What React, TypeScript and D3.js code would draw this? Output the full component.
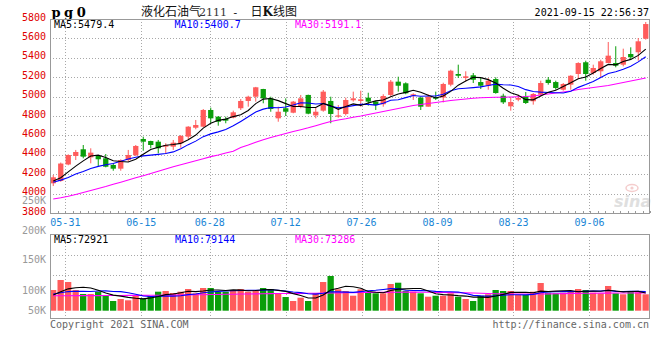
import React from 'react';
import * as d3 from 'd3';

// ---------- data ----------
const labelDates = ['05-31', '06-15', '06-28', '07-12', '07-26', '08-09', '08-23', '09-06'];
const labelIndex = [2, 12, 21, 31, 41, 51, 61, 71];

const openP = [4106, 4130, 4300, 4388, 4457, 4374, 4388, 4364, 4295, 4257,
  4346, 4395, 4563, 4542, 4535, 4484, 4484, 4519, 4587, 4679,
  4690, 4862, 4793, 4769, 4783, 4880, 4955, 4999, 5078, 4982,
  4776, 4880, 4834, 4896, 5017, 4806, 4855, 4955, 4793, 4821,
  4962, 4955, 4989, 4948, 4921, 5017, 5154, 5137, 5009, 4989,
  4896, 4993, 4990, 5123, 5233, 5192, 5220, 5150, 5112, 5181,
  5009, 4900, 4968, 5003, 4952, 5020, 5174, 5150, 5071, 5123,
  5233, 5354, 5243, 5261, 5346, 5346, 5329, 5439, 5457, 5597];
const highP = [4192, 4320, 4405, 4450, 4501, 4467, 4398, 4408, 4312, 4353,
  4450, 4501, 4587, 4545, 4553, 4519, 4553, 4604, 4695, 4759,
  4872, 4886, 4800, 4793, 4855, 4975, 5009, 5100, 5080, 4999,
  4896, 4982, 4955, 5017, 5020, 4886, 5068, 4999, 4913, 4989,
  5051, 5061, 5040, 4955, 5024, 5171, 5205, 5147, 5034, 4999,
  5024, 5051, 5143, 5277, 5329, 5261, 5243, 5192, 5192, 5199,
  5030, 4996, 5020, 5047, 5037, 5164, 5202, 5164, 5140, 5220,
  5354, 5370, 5329, 5380, 5563, 5519, 5494, 5508, 5604, 5769];
const lowP = [4078, 4122, 4292, 4346, 4364, 4312, 4285, 4271, 4236, 4236,
  4329, 4388, 4442, 4467, 4415, 4408, 4450, 4473, 4560, 4663,
  4684, 4725, 4700, 4725, 4776, 4862, 4896, 4948, 4931, 4844,
  4741, 4800, 4828, 4880, 4818, 4776, 4844, 4725, 4782, 4806,
  4948, 4896, 4906, 4862, 4896, 4999, 5051, 5024, 4965, 4862,
  4896, 4965, 4940, 5106, 5192, 5158, 5140, 5078, 5071, 5030,
  4924, 4855, 4952, 4924, 4917, 5003, 5123, 5071, 5061, 5071,
  5181, 5164, 5226, 5199, 5346, 5302, 5312, 5380, 5370, 5587];
const closeP = [4168, 4310, 4398, 4429, 4381, 4422, 4354, 4277, 4257, 4346,
  4398, 4491, 4535, 4501, 4467, 4501, 4525, 4594, 4690, 4707,
  4862, 4776, 4741, 4752, 4838, 4955, 4999, 5096, 4982, 4872,
  4844, 4844, 4948, 4982, 4824, 4844, 5051, 4821, 4806, 4965,
  4982, 4972, 4948, 4913, 5006, 5154, 5112, 5034, 5024, 4896,
  4999, 4978, 5130, 5267, 5215, 5209, 5174, 5112, 5164, 5037,
  4941, 4944, 4986, 4934, 5027, 5140, 5140, 5089, 5130, 5215,
  5346, 5233, 5295, 5364, 5422, 5319, 5408, 5405, 5570, 5748];
// closes before the first visible day (only feed the MA5 / MA10 lines)
const priorClose = [4090, 4120, 4080, 4110, 4120, 4140, 4100, 4130, 4112];

const ma30Price = [3944, 3957, 3972, 3991, 4011, 4032, 4053, 4073, 4096, 4118,
  4140, 4163, 4185, 4207, 4230, 4254, 4277, 4298, 4319, 4339,
  4360, 4381, 4398, 4419, 4436, 4475, 4501, 4529, 4556, 4578,
  4599, 4620, 4640, 4659, 4678, 4700, 4723, 4743, 4759, 4772,
  4787, 4800, 4816, 4831, 4846, 4862, 4877, 4893, 4908, 4919,
  4929, 4939, 4950, 4960, 4968, 4975, 4983, 4988, 4991, 4993,
  4994, 4996, 4998, 5001, 5006, 5017, 5027, 5037, 5048, 5058,
  5073, 5084, 5094, 5104, 5115, 5130, 5145, 5161, 5176, 5191];

const volume = [85300, 126500, 118200, 85300, 68800, 68800, 78300, 64700, 40000, 48200,
  42800, 60600, 51100, 60600, 78300, 81200, 72900, 78300, 89400, 71700,
  93500, 93500, 78300, 78300, 85300, 89400, 78300, 85300, 93500, 89400,
  72900, 56400, 40000, 53600, 40000, 72900, 118200, 143000, 88200, 81200,
  61800, 88200, 75800, 71700, 71700, 110000, 115400, 81200, 78300, 71700,
  57700, 61800, 61800, 71700, 57700, 48200, 40000, 61800, 67600, 85300,
  81200, 81200, 64700, 64700, 78300, 114100, 74200, 71700, 74200, 81200,
  89400, 85300, 74200, 71700, 101800, 71700, 67600, 81200, 75800, 67600];
const priorVolume = [75000, 70000, 72000, 73000, 74500, 60000, 58000, 62000, 58200];
const ma30Volume = [61800, 61800, 61800, 62000, 62000, 62000, 62000, 62500, 62500, 62500,
  63000, 63000, 63000, 63500, 63500, 64000, 64000, 64500, 65000, 65500,
  66000, 66500, 67000, 67500, 68000, 68500, 69000, 69500, 70000, 70500,
  71000, 71000, 71500, 71500, 72000, 72000, 72500, 73000, 73500, 74000,
  74500, 75000, 75000, 75500, 75500, 76000, 76000, 76500, 76500, 76000,
  76000, 75500, 75000, 74500, 74000, 73500, 73000, 72000, 71000, 70000,
  69500, 69000, 68500, 68500, 68500, 69000, 69500, 70000, 70500, 71000,
  71500, 72000, 72000, 72500, 72500, 73000, 73000, 73200, 73300, 73286];

const priceTicks = [5800, 5600, 5400, 5200, 5000, 4800, 4600, 4400, 4200, 4000, 3800];
const volTicks = [250000, 200000, 150000, 100000, 50000];
const volGrid = [150000, 100000];

const headerMA = ['MA5:5479.4', 'MA10:5400.7', 'MA30:5191.1'];
const volMA = ['MA5:72921', 'MA10:79144', 'MA30:73286'];

// ---------- style ----------
const RED = '#ff5b5b';
const GREEN = '#0a9e0a';
const MONO = "'DejaVu Sans Mono', 'Liberation Mono', monospace";
const GRID = '#a8a8a8';

function movingAvg(prior: number[], vals: number[], n: number): number[] {
  const all = prior.concat(vals);
  const off = prior.length;
  return vals.map((_, i) => d3.mean(all.slice(off + i - n + 1, off + i + 1)) as number);
}

export default function App() {
  const L = 50, R = 650;
  const pTop = 19, pBot = 213;
  const vTop = 234, vBot = 318, vBase = 310.7;
  const n = openP.length;

  const x = d3.scaleBand<number>().domain(d3.range(n)).range([L, R]);
  const step = x.step();
  const cx = (i: number) => (x(i) as number) + 3.25;
  const xDate = d3.scaleLinear().domain([0, n - 1]).range([L + 0.2, R + 0.2]);
  const y = d3.scaleLinear().domain([3800, 5800]).range([pBot, pTop]);
  const yv = d3.scaleLinear().domain([0, 100000]).range([vBase, vBase - 100000 / 4120]);
  // the volume axis labels of this chart sit unevenly; a polylinear scale keeps them in place
  const yvLabel = d3.scaleLinear().domain([50000, 100000, 150000, 200000, 250000])
    .range([314, 294, 263, 233.8, 204]);

  const ma5 = movingAvg(priorClose, closeP, 5);
  const ma10 = movingAvg(priorClose, closeP, 10);
  const vma5 = movingAvg(priorVolume, volume, 5);
  const vma10 = movingAvg(priorVolume, volume, 10);

  const lineP = d3.line<number>().x((_, i) => cx(i)).y((d) => y(d));
  const lineV = d3.line<number>().x((_, i) => cx(i)).y((d) => yv(d));

  const rulerTicks = d3.range(n + 1);

  return (
    <svg width={660} height={360} style={{ position: 'absolute', left: 0, top: 0, background: '#fff' }}
      xmlns="http://www.w3.org/2000/svg">
      <rect x={0} y={0} width={660} height={360} fill="#fff" />
      {/* header */}
      <text x={51.5} y={16.5} fontFamily="'DejaVu Serif', serif" fontWeight="bold" fontSize={13} letterSpacing={3.5}>pg0</text>
      <text x={141} y={16} fontFamily="'Noto Sans CJK SC', sans-serif" fontSize={12} fill="#111">液化石油气</text>
      <text x={199} y={16} fontFamily="'DejaVu Serif', serif" fontSize={11} fill="#333">2111</text>
      <text x={232} y={16} fontFamily={MONO} fontSize={11} fill="#111">-</text>
      <text x={250.5} y={16} fontFamily="'Noto Sans CJK SC', sans-serif" fontSize={12} fill="#111">日<tspan fontWeight="bold" fontFamily="'DejaVu Serif', serif">K</tspan>线图</text>
      <text x={649} y={16} textAnchor="end" fontFamily={MONO} fontSize={10} fill="#000">2021-09-15 22:56:37</text>

      {/* price grid */}
      {priceTicks.slice(1, -1).map((t) => (
        <line key={'pg' + t} x1={L} x2={R} y1={Math.round(y(t)) + 0.5} y2={Math.round(y(t)) + 0.5}
          stroke={GRID} strokeDasharray="1 2" />
      ))}
      {labelIndex.map((idx) => (
        <g key={'vg' + idx}>
          <line x1={Math.round(xDate(idx)) + 0.5} x2={Math.round(xDate(idx)) + 0.5} y1={pTop} y2={pBot}
            stroke={GRID} strokeDasharray="1 2" />
          <line x1={Math.round(xDate(idx)) + 0.5} x2={Math.round(xDate(idx)) + 0.5} y1={vTop} y2={vBot}
            stroke={GRID} strokeDasharray="1 2" />
        </g>
      ))}
      {volGrid.map((t, k) => (
        <line key={'vgh' + t} x1={L} x2={R} y1={255.5 + k * 20} y2={255.5 + k * 20}
          stroke={GRID} strokeDasharray="1 2" />
      ))}

      {/* watermark */}
      <g opacity={0.9}>
        <ellipse cx={632} cy={188} rx={6} ry={3.5} fill="none" stroke="#f4c8c8" strokeWidth={1.5} />
        <circle cx={632} cy={188} r={1.6} fill="#f4c8c8" />
        <text x={614} y={207} fontFamily="'DejaVu Sans', sans-serif" fontStyle="italic" fontWeight="bold"
          fontSize={16} fill="#dcdcdc">sina</text>
      </g>

      {/* candles */}
      {openP.map((o, i) => {
        const c = closeP[i];
        const col = c >= o ? RED : GREEN;
        const top = y(Math.max(o, c));
        const bot = y(Math.min(o, c));
        return (
          <g key={'c' + i}>
            <line x1={cx(i)} x2={cx(i)} y1={y(highP[i])} y2={y(lowP[i])} stroke={col} strokeWidth={1} />
            <rect x={(x(i) as number) + 0.6} width={5.3} y={top} height={Math.max(1, bot - top)} fill={col} />
          </g>
        );
      })}

      {/* price MA lines */}
      <path d={lineP(ma30Price) || ''} fill="none" stroke="#ff00ff" strokeWidth={1.1} />
      <path d={lineP(ma10) || ''} fill="none" stroke="#0000ff" strokeWidth={1.1} />
      <path d={lineP(ma5) || ''} fill="none" stroke="#000" strokeWidth={1.1} />

      {/* price panel frame */}
      <rect x={L + 0.5} y={pTop + 0.5} width={R - L - 1} height={pBot - pTop} fill="none" stroke="#999" />
      {rulerTicks.map((i) => (
        <line key={'rt' + i} x1={Math.round(L + i * step) + 0.5} x2={Math.round(L + i * step) + 0.5}
          y1={pBot - 2} y2={pBot} stroke="#999" />
      ))}
      {headerMA.map((t, k) => (
        <text key={t} x={[54, 174.5, 295][k]} y={27.5} fontFamily={MONO} fontSize={10}
          fill={['#000', '#0000ff', '#ff00ff'][k]}>{t}</text>
      ))}
      {priceTicks.map((t) => (
        <text key={'pl' + t} x={46} y={y(t) + 1.5} textAnchor="end" fontFamily={MONO} fontSize={10} fill="#e00000">{t}</text>
      ))}
      {labelDates.map((d, k) => (
        <text key={d} x={xDate(labelIndex[k])} y={225.5} textAnchor="middle" fontFamily={MONO} fontSize={10} fill="#1a86d6">{d}</text>
      ))}

      {/* volume bars */}
      {volume.map((v, i) => {
        const col = closeP[i] >= openP[i] ? RED : GREEN;
        return <rect key={'v' + i} x={x(i) as number} width={6.3} y={yv(v)} height={vBase - yv(v)} fill={col} />;
      })}
      <path d={lineV(ma30Volume) || ''} fill="none" stroke="#ff00ff" strokeWidth={1.1} />
      <path d={lineV(vma10) || ''} fill="none" stroke="#0000ff" strokeWidth={1.1} />
      <path d={lineV(vma5) || ''} fill="none" stroke="#000" strokeWidth={1.1} />

      <rect x={L + 0.5} y={vTop + 0.5} width={R - L - 1} height={vBot - vTop} fill="none" stroke="#999" />
      {volMA.map((t, k) => (
        <text key={t} x={[54, 175, 295][k]} y={242.5} fontFamily={MONO} fontSize={10}
          fill={['#000', '#0000ff', '#ff00ff'][k]}>{t}</text>
      ))}
      {volTicks.map((t) => (
        <text key={'vl' + t} x={46} y={yvLabel(t)} textAnchor="end" fontFamily={MONO} fontSize={10} fill="#999">{t / 1000 + 'K'}</text>
      ))}

      <text x={50} y={327.5} fontFamily={MONO} fontSize={10} fill="#666">Copyright 2021 SINA.COM</text>
      <text x={649} y={327.5} textAnchor="end" fontFamily={MONO} fontSize={10} fill="#666">http://finance.sina.com.cn</text>
    </svg>
  );
}
